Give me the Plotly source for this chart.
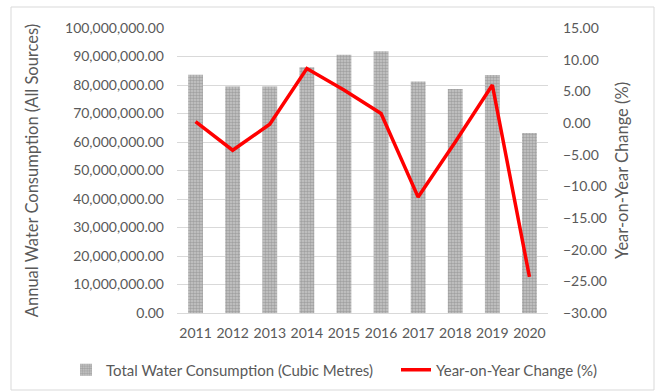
import plotly.graph_objects as go

# Annual totals and year-on-year change
years = ["2011", "2012", "2013", "2014", "2015", "2016", "2017", "2018", "2019", "2020"]
consumption = [83.6e6, 79.5e6, 79.5e6, 86.2e6, 90.6e6, 91.8e6, 81.2e6, 78.6e6, 83.5e6, 63.2e6]
yoy_change = [0.2, -4.3, -0.2, 8.6, 5.2, 1.5, -11.7, -3.0, 6.0, -24.3]

W, H = 657, 392
L, R, T, B = 177, 548, 28, 313  # plot area in pixels

FONT = "Lato"
GREY = "#595959"

fig = go.Figure()
fig.add_trace(go.Bar(
    x=years, y=consumption,
    name="Total Water Consumption (Cubic Metres)",
    legend="legend",
    marker=dict(
        color="#c8c8c8",
        line=dict(width=0),
        pattern=dict(shape=".", fgcolor="#7a7a7a", bgcolor="#c8c8c8",
                     size=3, solidity=0.55),
    ),
))
fig.add_trace(go.Scatter(
    x=years, y=yoy_change, yaxis="y2", mode="lines",
    name="Year-on-Year Change (%)",
    legend="legend2",
    line=dict(color="#ff0000", width=3.5),
))

pw, ph = R - L, B - T
fig.add_shape(
    type="rect", xref="paper", yref="paper",
    x0=(11 - L) / pw, x1=(654 - L) / pw,
    y0=(B - 390) / ph, y1=(B - 7) / ph,
    line=dict(color="#d9d9d9", width=1), fillcolor="rgba(0,0,0,0)",
    layer="below",
)

legend_common = dict(orientation="h", xanchor="left",
                     y=(B - 370) / ph, yanchor="middle",
                     font=dict(size=15, color=GREY), itemwidth=30,
                     bgcolor="rgba(0,0,0,0)")

fig.update_layout(
    width=W, height=H,
    margin=dict(l=L, r=W - R, t=T, b=H - B, autoexpand=False),
    paper_bgcolor="white", plot_bgcolor="white",
    font=dict(family=FONT, size=14, color=GREY),
    bargap=0.6,
    showlegend=True,
    legend=dict(x=(66 - L) / pw, **legend_common),
    legend2=dict(x=(396 - L) / pw, **legend_common),
    xaxis=dict(showgrid=False, showline=False, ticks="",
               ticklabelstandoff=10,
               tickfont=dict(size=14, color=GREY)),
    yaxis=dict(range=[0, 100e6], dtick=10e6, tickformat=",.2f",
               showgrid=True, gridcolor="#d9d9d9", gridwidth=1,
               zeroline=True, zerolinecolor="#d9d9d9", zerolinewidth=1,
               ticks="", ticklabelstandoff=12,
               tickfont=dict(size=14, color=GREY),
               title=dict(text="Annual Water Consumption (All Sources)",
                          font=dict(size=16.5, color=GREY), standoff=22)),
    yaxis2=dict(range=[-30, 15], dtick=5, tickformat=".2f",
                overlaying="y", side="right", showgrid=False,
                zeroline=False, ticks="", ticklabelstandoff=14,
                tickfont=dict(size=14, color=GREY),
                title=dict(text="Year-on-Year Change (%)",
                           font=dict(size=16.5, color=GREY), standoff=10)),
)

fig.write_html("out.html")
